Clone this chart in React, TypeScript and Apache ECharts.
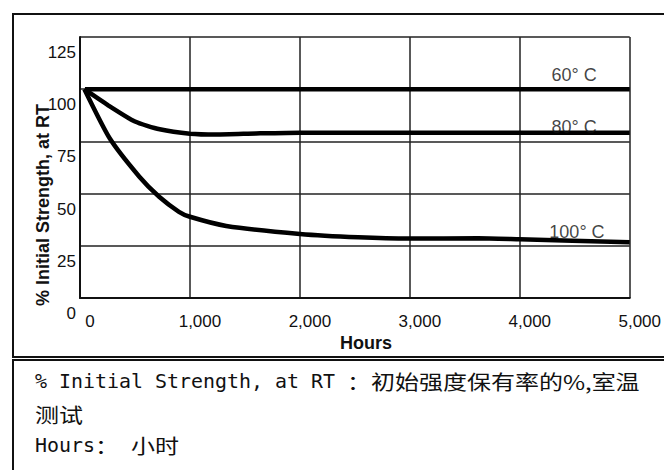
import React, { useEffect, useRef } from "react";
import * as echarts from "echarts";

const xTicks = [0, 1000, 2000, 3000, 4000, 5000];
const xTickLabels = ["0", "1,000", "2,000", "3,000", "4,000", "5,000"];
const yTickLabels = ["0", "25", "50", "75", "100", "125"];

const hours60 = [45, 1000, 2000, 3000, 4000, 5000];
const strength60 = [100, 100, 100, 100, 100, 100];

const hours80 = [40, 250, 500, 725, 1000, 1240, 1600, 2000, 3000, 4000, 5000];
const strength80 = [100, 92.5, 84.5, 80.8, 78.7, 78.3, 78.8, 79.2, 79.2, 79.2, 79.2];

const hours100 = [40, 270, 540, 720, 900, 1000, 1330, 2000, 2530, 3000, 3620, 4000, 5000];
const strength100 = [100, 76.5, 58.1, 48.5, 41.3, 38.9, 34.5, 30.7, 29.1, 28.5, 28.6, 28.1, 26.7];

const seriesNames = ["60° C", "80° C", "100° C"];
const labelHours = [4495, 4495, 4520];
const labelValues = [106.8, 82.0, 31.8];

const axisTitleY = "% Initial Strength, at RT";
const axisTitleX = "Hours";
// note lines as segments: [text, start cell (half-width units), isCJK]
const noteLines: [string, number, boolean][][] = [
  [["% Initial Strength, at RT ", 0, false], ["：初始强度保有率的%,室温", 26, true]],
  [["测试", 0, true]],
  [["Hours", 0, false], ["：", 5, true], ["小时", 8, true]],
];

const pair = (xs: number[], ys: number[]) => xs.map((x, i) => [x, ys[i]]);

export default function App() {
  const ref = useRef<HTMLDivElement>(null);
  useEffect(() => {
    if (!ref.current) return;
    const chart = echarts.init(ref.current, undefined, { renderer: "svg" });
    const sans = "Liberation Sans, Arial, sans-serif";
    const mono = "DejaVu Sans Mono, monospace";
    const cjk = "Noto Sans CJK SC, sans-serif";
    const lineStyle = { color: "#000", width: 4.5 };
    const mk = (name: string, xs: number[], ys: number[]) => ({
      type: "line",
      name,
      data: pair(xs, ys),
      showSymbol: false,
      symbol: "none",
      smooth: 0.2,
      lineStyle,
      z: 5,
    });
    const halfW = 12;
    const noteY = [381, 414, 445];
    const notes: any[] = [];
    noteLines.forEach((segs, i) => {
      segs.forEach(([text, cell, isCjk]) => {
        notes.push({
          type: "text",
          x: 35 + cell * halfW,
          y: noteY[i],
          scaleX: isCjk ? (2 * halfW) / 20 : halfW / (0.602 * 20),
          style: {
            text,
            fontFamily: isCjk ? cjk : mono,
            fontSize: 20,
            fill: "#111",
            align: "left",
            verticalAlign: "middle",
          },
        });
      });
    });
    chart.setOption({
      animation: false,
      backgroundColor: "#fff",
      grid: { left: 80, right: 31, top: 37, bottom: 172 },
      xAxis: {
        type: "value",
        min: 0,
        max: 5000,
        interval: 1000,
        axisLine: { show: true, lineStyle: { color: "#111", width: 2 } },
        axisTick: { show: false },
        splitLine: { show: true, lineStyle: { color: "#222", width: 1.5 } },
        axisLabel: {
          margin: 15,
          fontFamily: sans,
          fontSize: 17,
          color: "#111",
          padding: [0, 0, 0, 20],
          formatter: (v: number) => xTickLabels[xTicks.indexOf(v)] ?? "",
        },
      },
      yAxis: {
        type: "value",
        min: 0,
        max: 125,
        interval: 25,
        axisLine: { show: true, lineStyle: { color: "#111", width: 2 } },
        axisTick: { show: false },
        splitLine: { show: true, lineStyle: { color: "#222", width: 1.5 } },
        axisLabel: {
          margin: 4,
          fontFamily: sans,
          fontSize: 17,
          color: "#111",
          verticalAlign: "top",
          lineHeight: 31,
          formatter: (v: number) => yTickLabels[v / 25] ?? "",
        },
      },
      series: [
        mk(seriesNames[0], hours60, strength60),
        mk(seriesNames[1], hours80, strength80),
        mk(seriesNames[2], hours100, strength100),
        {
          type: "scatter",
          data: labelHours.map((h, i) => ({ value: [h, labelValues[i]], name: seriesNames[i] })),
          symbolSize: 1,
          itemStyle: { color: "rgba(0,0,0,0)" },
          z: 6,
          label: {
            show: true,
            position: "inside",
            formatter: (p: any) => p.name,
            fontFamily: sans,
            fontSize: 18,
            color: "#111",
          },
        },
      ],
      graphic: [
        {
          type: "rect",
          shape: { x: 13, y: 14, width: 700, height: 343 },
          style: { fill: "none", stroke: "#111", lineWidth: 2 },
          z: 0,
        },
        {
          type: "rect",
          shape: { x: 13, y: 360, width: 700, height: 200 },
          style: { fill: "none", stroke: "#111", lineWidth: 2 },
          z: 0,
        },
        {
          type: "text",
          x: 43,
          y: 205,
          rotation: Math.PI / 2,
          style: {
            text: axisTitleY,
            fontFamily: sans,
            fontWeight: "bold",
            fontSize: 18,
            fill: "#111",
            align: "center",
            verticalAlign: "middle",
          },
        },
        {
          type: "text",
          x: 366,
          y: 343,
          style: {
            text: axisTitleX,
            fontFamily: sans,
            fontWeight: "bold",
            fontSize: 18,
            fill: "#111",
            align: "center",
            verticalAlign: "middle",
          },
        },
        ...notes,
      ],
    });
    return () => chart.dispose();
  }, []);
  return <div ref={ref} style={{ position: "fixed", left: 0, top: 0, width: 664, height: 470 }} />;
}
